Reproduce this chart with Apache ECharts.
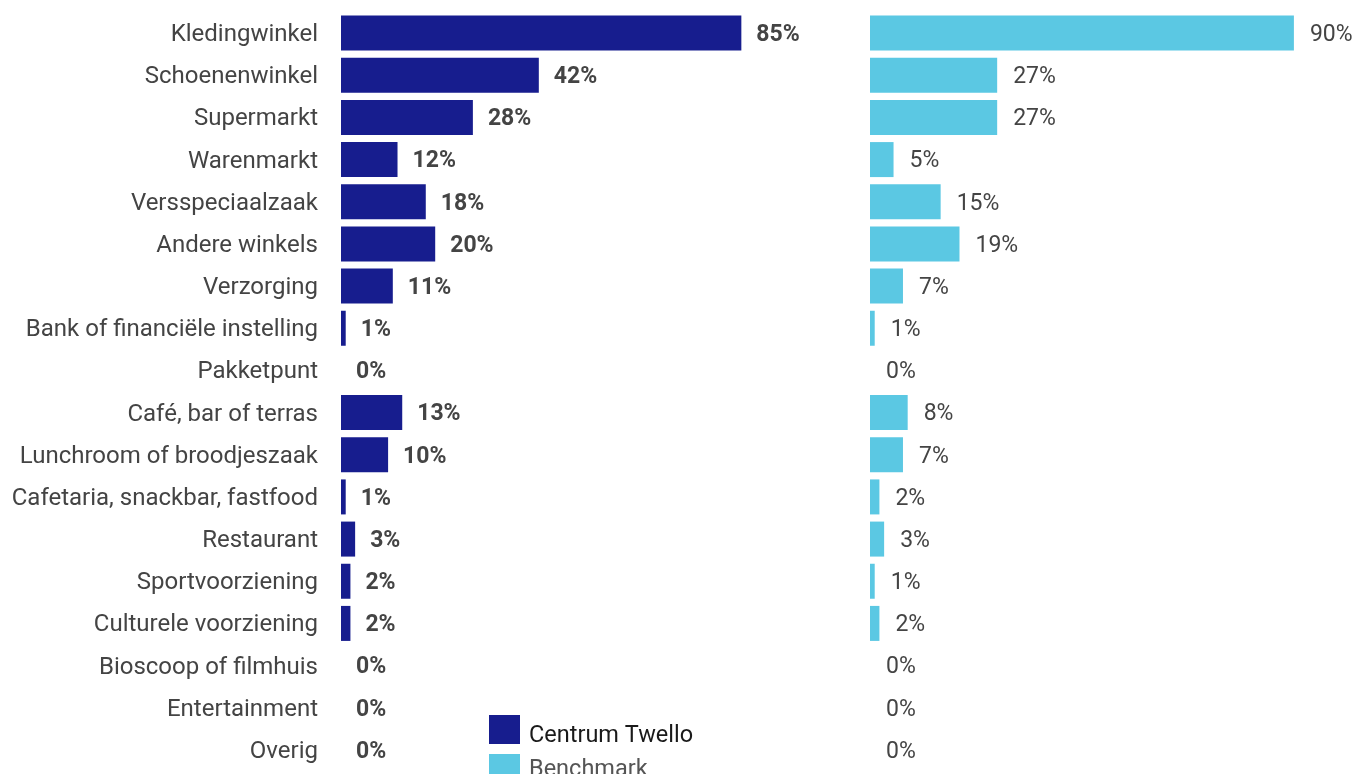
<!DOCTYPE html>
<html>
<head>
<meta charset="utf-8">
<script src="https://cdn.jsdelivr.net/npm/echarts@6/dist/echarts.min.js"></script>
<style>
html,body{margin:0;padding:0;background:#fff;}
#chart{width:1357px;height:774px;}
</style>
</head>
<body>
<div id="chart"></div>
<script>
const categories = ["Kledingwinkel","Schoenenwinkel","Supermarkt","Warenmarkt","Versspeciaalzaak","Andere winkels","Verzorging","Bank of financiële instelling","Pakketpunt","Café, bar of terras","Lunchroom of broodjeszaak","Cafetaria, snackbar, fastfood","Restaurant","Sportvoorziening","Culturele voorziening","Bioscoop of filmhuis","Entertainment","Overig"];
const centrumTwello = [85,42,28,12,18,20,11,1,0,13,10,1,3,2,2,0,0,0];
const benchmark = [90,27,27,5,15,19,7,1,0,8,7,2,3,1,2,0,0,0];
const seriesNames = ["Centrum Twello","Benchmark"];

const FONT = 'Roboto';
const chart = echarts.init(document.getElementById('chart'));
chart.setOption({
  animation:false,
  textStyle:{fontFamily:FONT},
  grid:[
    {left:341, top:12, width:471, height:759},
    {left:870, top:12, width:471, height:759}
  ],
  xAxis:[
    {gridIndex:0, type:'value', min:0, max:100, show:false},
    {gridIndex:1, type:'value', min:0, max:100, show:false}
  ],
  yAxis:[
    {gridIndex:0, type:'category', data:categories, inverse:true,
     axisLine:{show:false}, axisTick:{show:false}, splitLine:{show:false},
     axisLabel:{color:'#444', fontSize:24, margin:23, fontFamily:FONT,
       formatter:function(v){return '{a|'+v+'}';},
       rich:{a:{color:'#444', fontSize:24, fontFamily:FONT, padding:[4,0,0,0]}}}},
    {gridIndex:1, type:'category', data:categories, inverse:true, show:false}
  ],
  legend:{
    orient:'vertical', left:489, top:715, height:120, padding:0,
    itemWidth:31, itemHeight:29, itemGap:6,
    icon:'rect',
    formatter:function(n){return n===seriesNames[0] ? '{a|'+n+'}' : '{b|'+n+'}';},
    textStyle:{fontSize:23.5, color:'#222', fontFamily:FONT,
      rich:{
        a:{fontSize:23.5, fontFamily:FONT, color:'#1a1a1a', padding:[13,0,0,4]},
        b:{fontSize:23.5, fontFamily:FONT, color:'#555', padding:[4,0,0,4]}
      }},
    data:[seriesNames[0], seriesNames[1]]
  },
  series:[
    {name:seriesNames[0], type:'bar', xAxisIndex:0, yAxisIndex:0, data:centrumTwello,
     barCategoryGap:'17%', itemStyle:{color:'#171d8e'},
     label:{show:true, position:'right', distance:15, offset:[0,2], formatter:'{c}%', fontSize:23, fontWeight:'bold', color:'#444', fontFamily:FONT}},
    {name:seriesNames[1], type:'bar', xAxisIndex:1, yAxisIndex:1, data:benchmark,
     barCategoryGap:'17%', itemStyle:{color:'#5bc8e3'},
     label:{show:true, position:'right', distance:16, offset:[0,2], formatter:'{c}%', fontSize:23, color:'#444', fontFamily:FONT}}
  ]
});
</script>
</body>
</html>
